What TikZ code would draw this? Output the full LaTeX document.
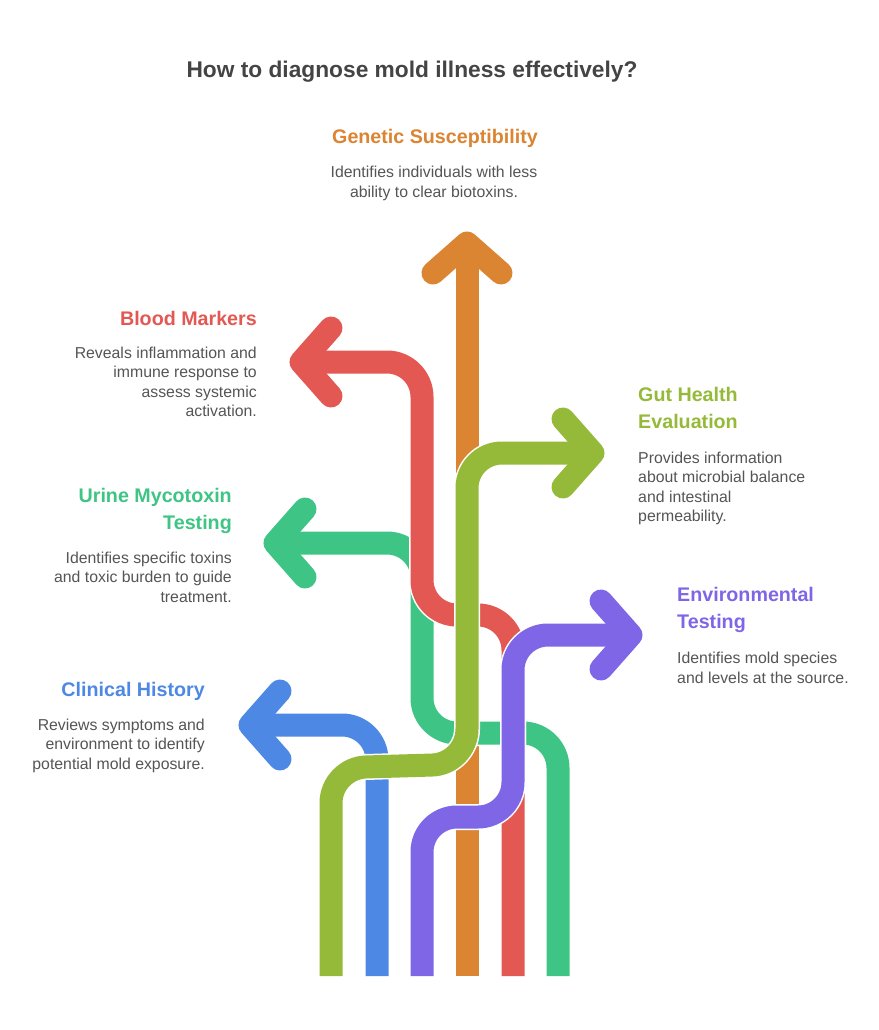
\documentclass[tikz,border=0pt]{standalone}
\usepackage{fontspec}
\setmainfont{Liberation Sans}
\usetikzlibrary{positioning}
\definecolor{cOrange}{HTML}{DB8432}
\definecolor{cRed}{HTML}{E35853}
\definecolor{cLime}{HTML}{95BA3A}
\definecolor{cTeal}{HTML}{3EC484}
\definecolor{cPurple}{HTML}{7F66E6}
\definecolor{cBlue}{HTML}{4D88E4}
\definecolor{txtGray}{HTML}{555555}
\definecolor{titleGray}{HTML}{444444}

\begin{document}
\begin{tikzpicture}[
    x=0.03cm, y=-0.03cm,
    band/.style={
        draw=#1, line width=0.69cm, rounded corners=1.05cm, line cap=butt,
        preaction={draw=white, line width=0.78cm}
    },
    barb/.style={
        draw=#1, line width=0.69cm, line cap=round, line join=round
    },
    head/.style={
        font=\fontsize{16.8}{22.2}\selectfont\bfseries,
        text=#1, inner sep=0pt
    },
    desc/.style={
        font=\fontsize{13.5}{16.6}\selectfont,
        text=txtGray, inner sep=0pt
    },
]

\useasboundingbox (0,0) rectangle (879,1030);
\fill[white] (0,0) rectangle (879,1030);

% start points at the bottom
\coordinate (s-lime)   at (331,976);
\coordinate (s-blue)   at (377,976);
\coordinate (s-purple) at (422,976);
\coordinate (s-orange) at (467,976);
\coordinate (s-red)    at (513,976);
\coordinate (s-teal)   at (558,976);

% arrow tips
\coordinate (t-orange) at (467,243);
\coordinate (t-red)    at (301,362);
\coordinate (t-lime)   at (593,453);
\coordinate (t-teal)   at (275,543);
\coordinate (t-purple) at (631,635);
\coordinate (t-blue)   at (250,725);

% bands, lowest first
\draw[band=cOrange] (s-orange) -- (t-orange);
\draw[barb=cOrange] (t-orange) ++(-34,30) -- (t-orange) -- ++(34,30);

\draw[band=cBlue] (s-blue) |- (t-blue);
\draw[barb=cBlue] (t-blue) ++(30,-34) -- (t-blue) -- ++(30,34);

\draw[band=cTeal] (s-teal) |- (422,733) |- (t-teal);
\draw[barb=cTeal] (t-teal) ++(30,-34) -- (t-teal) -- ++(30,34);

\draw[band=cRed] (s-red) |- (422,615) |- (t-red);
\draw[barb=cRed] (t-red) ++(30,-34) -- (t-red) -- ++(30,34);

\draw[band=cLime] (s-lime) -- (331,768) -- (467,764) |- (t-lime);
\draw[barb=cLime] (t-lime) ++(-30,-34) -- (t-lime) -- ++(-30,34);

\draw[band=cPurple] (s-purple) |- (513,817) |- (t-purple);
\draw[barb=cPurple] (t-purple) ++(-30,-34) -- (t-purple) -- ++(-30,34);

% title
\node[font=\fontsize{19.4}{23}\selectfont\bfseries, text=titleGray, anchor=base, inner sep=0pt]
    (title) at (412,77) {How to diagnose mold illness effectively?};

% labels (base = last line)
\node[head=cOrange, anchor=base] (gen-head) at (435,143) {Genetic Susceptibility};
\node[desc, anchor=base, align=center] (gen-desc) at (434,197)
    {Identifies individuals with less\\ability to clear biotoxins.};

\node[head=cRed, anchor=base east] (blood-head) at (257,325) {Blood Markers};
\node[desc, anchor=base east, align=right] (blood-desc) at (257,416.5)
    {Reveals inflammation and\\immune response to\\assess systemic\\activation.};

\node[head=cLime, anchor=base west, align=left] (gut-head) at (638,428) {Gut Health\\Evaluation};
\node[desc, anchor=base west, align=left] (gut-desc) at (638,521.5)
    {Provides information\\about microbial balance\\and intestinal\\permeability.};

\node[head=cTeal, anchor=base east, align=right] (urine-head) at (232,529) {Urine Mycotoxin\\Testing};
\node[desc, anchor=base east, align=right] (urine-desc) at (232,602)
    {Identifies specific toxins\\and toxic burden to guide\\treatment.};

\node[head=cPurple, anchor=base west, align=left] (env-head) at (677,628) {Environmental\\Testing};
\node[desc, anchor=base west, align=left] (env-desc) at (677,683)
    {Identifies mold species\\and levels at the source.};

\node[head=cBlue, anchor=base east] (clin-head) at (205,696) {Clinical History};
\node[desc, anchor=base east, align=right] (clin-desc) at (205,769)
    {Reviews symptoms and\\environment to identify\\potential mold exposure.};

\end{tikzpicture}
\end{document}
